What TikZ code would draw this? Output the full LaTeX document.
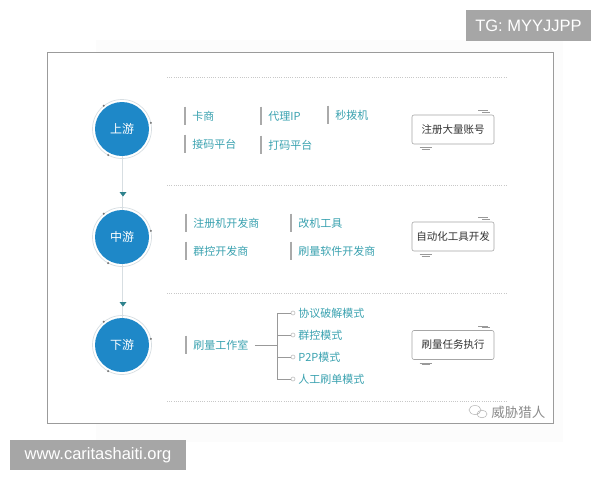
\documentclass[tikz,border=0pt]{standalone}
\usepackage{fontspec}
\setmainfont{Noto Sans CJK SC}
\newfontfamily\badgefont{Liberation Sans}
\usetikzlibrary{positioning}

\definecolor{stageblue}{RGB}{30,136,200}
\definecolor{itemteal}{RGB}{58,162,176}
\definecolor{bargray}{RGB}{170,170,170}
\definecolor{framegray}{RGB}{155,155,155}
\definecolor{badgegray}{RGB}{166,166,166}
\definecolor{ringgray}{RGB}{215,222,226}
\definecolor{dotgray}{RGB}{200,200,200}

\tikzset{every picture/.style={line width=0.75pt}}
\tikzset{
  stage/.style={circle, fill=stageblue, text=white, minimum size=54pt, inner sep=0pt, font=\fontsize{12}{14}\selectfont},
  item/.style={anchor=west, text=itemteal, inner xsep=0pt, inner ysep=4pt, font=\fontsize{11}{13}\selectfont},
  goal/.style={draw=black!35, line width=0.6pt, rounded corners=2pt, minimum width=82pt, minimum height=29pt, inner sep=0pt, text=black!80, font=\fontsize{10.5}{12}\selectfont},
  bar/.style={draw=bargray, line width=1.3pt},
  link/.style={draw=black!40, line width=0.6pt},
  tip/.style={circle, draw=black!20, fill=white, minimum size=4pt, inner sep=0pt},
  badge/.style={fill=badgegray, text=white, inner sep=0pt, font=\badgefont\fontsize{16.5}{18}\selectfont}
}

\begin{document}
\begin{tikzpicture}[x=1pt,y=1pt,yscale=-1,xscale=1]
\useasboundingbox (0,0) rectangle (600,480);
\fill[white] (0,0) rectangle (600,480);

% faint backdrop and frame
\fill[black!1] (96,40) rectangle (563,442);
\draw[draw=framegray, line width=0.8pt, fill=white] (47,52) rectangle (553,423);

% dotted separators
\foreach \y in {77,185,293,401}
  \draw[dotgray, line width=0.8pt, dash pattern=on 1pt off 1.2pt] (167,\y) -- (508,\y);

% stages
\node[stage] (up) at (122,129) {上游};
\node[stage] (mid) at (122,237) {中游};
\node[stage] (down) at (122,345) {下游};

\draw[ringgray, line width=0.5pt] (up.south) -- (mid.north) (mid.south) -- (down.north);
\foreach \s in {up,mid,down}{
  \draw[ringgray, line width=0.7pt] (\s) circle (29.5);
  \foreach \a in {118,-12,232}
    \fill[black!55] (\s) ++(\a:29.5) circle (1.1);
}
\foreach \y in {194,304}
  \fill[itemteal!80!black] (119.5,\y-2) -- (126.5,\y-2) -- (123,\y+2.5) -- cycle;

% upstream
\node[item] (ka) at (192,116) {卡商};
\node[item] (proxy) at (268,116) {代理IP};
\node[item] (dial) at (335,115) {秒拨机};
\node[item] (sms) at (192,144) {接码平台};
\node[item] (captcha) at (268,145) {打码平台};
\node[goal] (reg) at (453,129.5) {注册大量账号};

% midstream
\node[item] (regdev) at (193,223) {注册机开发商};
\node[item] (modtool) at (298,223) {改机工具};
\node[item] (grpdev) at (193,251) {群控开发商};
\node[item] (botdev) at (298,251) {刷量软件开发商};
\node[goal] (auto) at (453,236.5) {自动化工具开发};

% downstream
\node[item] (studio) at (193,345) {刷量工作室};
\node[goal] (task) at (453,345) {刷量任务执行};
\node[item] (m1) at (298,313) {协议破解模式};
\node[item] (m2) at (298,335) {群控模式};
\node[item] (m3) at (298,357) {P2P模式};
\node[item] (m4) at (298,379) {人工刷单模式};

\foreach \n in {ka,proxy,dial,sms,captcha,regdev,modtool,grpdev,botdev,studio}
  \draw[bar] ([xshift=-7pt]\n.north west) -- ([xshift=-7pt]\n.south west);

\coordinate (fork) at (277,345);
\draw[link] ([xshift=6pt]studio.east) -- (fork);
\draw[link] (fork |- m1) -- (fork |- m4);
\foreach \m in {m1,m2,m3,m4}{
  \node[tip] (t\m) at (293,0 |- \m) {};
  \draw[link] (fork |- \m) -- (t\m.west);
}

% corner dashes of the goal boxes
\foreach \g in {reg,auto,task}{
  \draw[black!40, line width=0.5pt] ([xshift=-16pt,yshift=-4pt]\g.north east) -- ([xshift=-6pt,yshift=-4pt]\g.north east)
    ([xshift=-12pt,yshift=-2.5pt]\g.north east) -- ([xshift=-4pt,yshift=-2.5pt]\g.north east);
  \draw[black!40, line width=0.5pt] ([xshift=8pt,yshift=3pt]\g.south west) -- ([xshift=20pt,yshift=3pt]\g.south west)
    ([xshift=10pt,yshift=4.5pt]\g.south west) -- ([xshift=18pt,yshift=4.5pt]\g.south west);
}

% watermark
\draw[black!30, line width=0.5pt] (475,410) ellipse (6 and 4.5) (482,414) ellipse (5 and 3.8);
\node[anchor=west, text=black!45, font=\fontsize{13.5}{15}\selectfont, inner sep=0pt] (mark) at (491,412) {威胁猎人};

% badges
\node[badge, minimum width=125pt, minimum height=31pt] (tg) at (528.5,25.5) {TG: MYYJJPP};
\node[badge, minimum width=176pt, minimum height=30pt] (site) at (98,455) {www.caritashaiti.org};
\end{tikzpicture}
\end{document}
